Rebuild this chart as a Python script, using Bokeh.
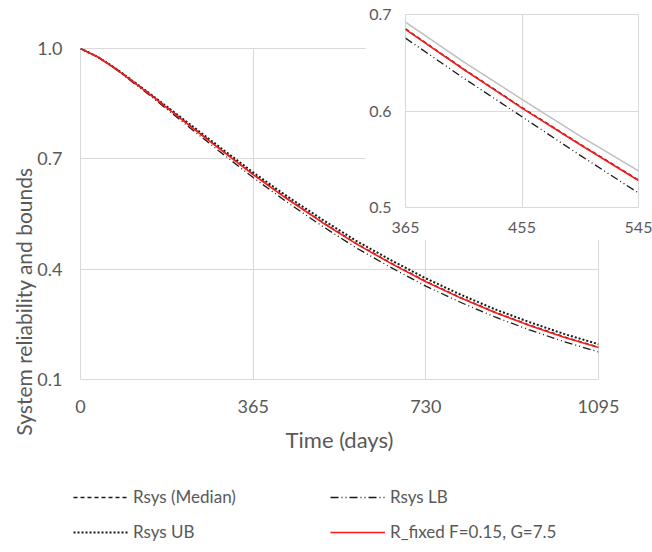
from bokeh.plotting import figure
from bokeh.models import (GridBox, Column, Legend, LegendItem, Label, FixedTicker, Range1d,
                          NumeralTickFormatter)
from bokeh.embed import file_html
from bokeh.resources import INLINE
import math

# ---------------- data ----------------
t_main = [0, 36.5, 73, 146, 219, 292, 365, 438, 511, 584, 657, 730, 803, 876, 949, 1022, 1095]
r_fixed = [1.000, 0.977, 0.946, 0.876, 0.802, 0.729, 0.657, 0.590, 0.527, 0.468, 0.415,
           0.366, 0.322, 0.282, 0.247, 0.215, 0.187]
rsys_median = [1.000, 0.977, 0.947, 0.877, 0.803, 0.730, 0.658, 0.591, 0.528, 0.469, 0.416,
               0.367, 0.323, 0.283, 0.248, 0.216, 0.188]
rsys_ub = [1.000, 0.977, 0.947, 0.878, 0.806, 0.734, 0.663, 0.597, 0.535, 0.476, 0.424,
           0.375, 0.331, 0.291, 0.256, 0.224, 0.196]
rsys_lb = [1.000, 0.977, 0.945, 0.873, 0.797, 0.722, 0.649, 0.581, 0.517, 0.457, 0.404,
           0.354, 0.310, 0.270, 0.235, 0.203, 0.175]

t_inset = [365, 410, 455, 500, 545]
inset_fixed = [0.6845, 0.643, 0.603, 0.565, 0.528]
inset_median = [0.6850, 0.6435, 0.6035, 0.5655, 0.5285]
inset_ub = [0.692, 0.651, 0.612, 0.574, 0.538]
inset_lb = [0.6755, 0.634, 0.594, 0.554, 0.515]

x_ticks = [0, 365, 730, 1095]
y_ticks = [0.1, 0.4, 0.7, 1.0]
inset_x_ticks = [365, 455, 545]
inset_y_ticks = [0.5, 0.6, 0.7]

labels = ["Rsys (Median)", "Rsys LB", "Rsys UB", "R_fixed F=0.15, G=7.5"]
x_title = "Time (days)"
y_title = "System reliability and bounds"

# ---------------- styles ----------------
FONT = "Lato"
TXT = "#595959"
GRID = "#D9D9D9"
BLACK = "#1a1a1a"
RED = "#FF1A1A"
W, H = 652, 552

UB_STYLE = dict(line_color=BLACK, line_width=2, line_dash="2 2")
LB_STYLE = dict(line_color=BLACK, line_width=1.3, line_dash="8 3 1 3 1 3")
MED_STYLE = dict(line_color=BLACK, line_width=1.5, line_dash="4 3")
FIX_STYLE = dict(line_color=RED, line_width=1.6)


def style_axes(fig, xt, yt, size):
    fig.xaxis.ticker = FixedTicker(ticks=xt)
    fig.yaxis.ticker = FixedTicker(ticks=yt)
    fig.xaxis.formatter = NumeralTickFormatter(format="0")
    fig.yaxis.formatter = NumeralTickFormatter(format="0.0")
    for ax in (fig.xaxis, fig.yaxis):
        ax.axis_line_color = None
        ax.major_tick_line_color = None
        ax.minor_tick_line_color = None
        ax.major_tick_in = 0
        ax.major_tick_out = 0
        ax.minor_tick_in = 0
        ax.minor_tick_out = 0
        ax.major_label_text_font = FONT
        ax.major_label_text_font_size = size
        ax.major_label_text_color = TXT
    fig.xgrid.ticker = FixedTicker(ticks=xt)
    fig.ygrid.ticker = FixedTicker(ticks=yt)
    fig.grid.grid_line_color = GRID
    fig.grid.grid_line_width = 1
    fig.outline_line_color = GRID
    fig.outline_line_width = 1
    fig.background_fill_color = "white"
    fig.border_fill_color = "white"


# ---------------- main chart ----------------
p = figure(width=W, height=H, x_range=Range1d(0, 1095), y_range=Range1d(0.1, 1.0),
           output_backend="svg", toolbar_location=None,
           min_border_left=80, min_border_right=W - 598, min_border_top=48,
           min_border_bottom=H - 379)
style_axes(p, x_ticks, y_ticks, "18px")
p.xaxis.major_label_standoff = 20
p.yaxis.major_label_standoff = 18
p.xaxis.axis_label = x_title
p.xaxis.axis_label_text_font = FONT
p.xaxis.axis_label_text_font_size = "22px"
p.xaxis.axis_label_text_font_style = "normal"
p.xaxis.axis_label_text_color = TXT
p.xaxis.axis_label_standoff = 10

p.line(t_main, rsys_ub, **UB_STYLE)
p.line(t_main, rsys_lb, **LB_STYLE)
p.line(t_main, rsys_median, **MED_STYLE)
p.line(t_main, r_fixed, **FIX_STYLE)

# ---------------- inset ----------------
q = figure(width=W - 365, height=240, x_range=Range1d(365, 545), y_range=Range1d(0.5, 0.7),
           output_backend="svg", toolbar_location=None,
           min_border_left=40, min_border_right=W - 638, min_border_top=14,
           min_border_bottom=33)
style_axes(q, inset_x_ticks, inset_y_ticks, "16px")
q.xaxis.major_label_standoff = 14
q.yaxis.major_label_standoff = 14
q.line(t_inset, inset_ub, line_color="#BFBFBF", line_width=1.5)
q.line(t_inset, inset_lb, **LB_STYLE)
q.line(t_inset, inset_median, **MED_STYLE)
q.line(t_inset, inset_fixed, **FIX_STYLE)

# ---------------- transparent overlay for y title and legend ----------------
o = figure(width=W, height=H, x_range=Range1d(0, W), y_range=Range1d(H, 0),
           output_backend="svg", toolbar_location=None,
           x_axis_type=None, y_axis_type=None, min_border=0)
o.grid.visible = False
o.outline_line_color = None
o.background_fill_alpha = 0
o.border_fill_alpha = 0

o.add_layout(Label(x=23, y=301, text=y_title, angle=math.pi / 2,
                   text_align="center", text_baseline="middle",
                   text_font=FONT, text_font_size="21px", text_color=TXT))

nan = float("nan")
d_med = o.line([nan], [nan], **MED_STYLE)
d_lb = o.line([nan], [nan], **LB_STYLE)
d_ub = o.line([nan], [nan], **UB_STYLE)
d_fix = o.line([nan], [nan], **FIX_STYLE)

leg_kw = dict(glyph_width=55, glyph_height=20, label_standoff=5, spacing=14,
              padding=0, margin=0, border_line_color=None, background_fill_alpha=0,
              label_text_font=FONT, label_text_font_size="17px", label_text_color=TXT,
              label_height=20)
leg1 = Legend(items=[LegendItem(label=labels[0], renderers=[d_med]),
                     LegendItem(label=labels[2], renderers=[d_ub])],
              location=(73, 10), **leg_kw)
leg2 = Legend(items=[LegendItem(label=labels[1], renderers=[d_lb]),
                     LegendItem(label=labels[3], renderers=[d_fix])],
              location=(330, 10), **leg_kw)
o.add_layout(leg1)
o.add_layout(leg2)

layout = GridBox(children=[(Column(children=[p]), 0, 0, 2, 2),
                           (Column(children=[q]), 0, 1),
                           (Column(children=[o]), 0, 0, 2, 2)],
                 cols=["365px", "%dpx" % (W - 365)], rows=["240px", "%dpx" % (H - 240)])

open("out.html", "w").write(file_html(layout, INLINE))
